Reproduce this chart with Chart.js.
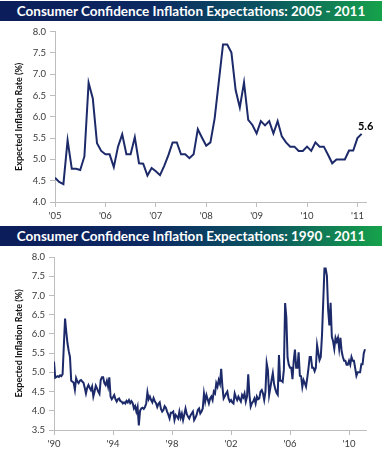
<!DOCTYPE html>
<html>
<head>
<meta charset="utf-8">
<script src="https://cdn.jsdelivr.net/npm/chart.js@4"></script>
<style>
  body { margin: 0; background: #fff; width: 386px; height: 457px; position: relative; overflow: hidden; font-family: Lato, sans-serif; }
  .bar { position: absolute; left: 0; width: 382px; height: 20px; color: #fff; font-weight: bold; font-size: 13.5px; line-height: 20px; text-align: center; white-space: nowrap;
         background: linear-gradient(to right, #0b1d5a 0%, #0c2a62 40%, #0b5660 70%, #16a24b 100%); }
  .box { position: absolute; left: 0; width: 386px; }
</style>
</head>
<body>
<div class="bar" style="top:1px">Consumer Confidence Inflation Expectations: 2005 - 2011</div>
<div class="box" style="top:22px;height:203px"><canvas id="recentChart"></canvas></div>
<div class="bar" style="top:226px">Consumer Confidence Inflation Expectations: 1990 - 2011</div>
<div class="box" style="top:247px;height:210px"><canvas id="longChart"></canvas></div>
<script>
// monthly expected inflation rate (%), Jan 2005 - Feb 2011
const recentValues = [
  4.57, 4.47, 4.42, 5.45, 4.78, 4.78, 4.75, 5.07, 6.8, 6.43, 5.38, 5.2,
  5.12, 5.12, 4.82, 5.3, 5.59, 5.12, 5.12, 5.52, 4.91, 4.9, 4.62, 4.8,
  4.72, 4.63, 4.85, 5.1, 5.4, 5.4, 5.12, 5.12, 5.03, 5.12, 5.71, 5.51,
  5.32, 5.4, 5.96, 6.83, 7.7, 7.7, 7.51, 6.63, 6.22, 6.81, 5.93, 5.81,
  5.61, 5.9, 5.8, 5.9, 5.61, 5.9, 5.54, 5.4, 5.3, 5.3, 5.2, 5.2,
  5.3, 5.2, 5.4, 5.3, 5.3, 5.11, 4.91, 5.0, 5.0, 5.0, 5.21, 5.21,
  5.5, 5.6
];

// monthly expected inflation rate (%), Jan 1990 - Dec 2004
const earlierValues = [
  5.28, 4.86, 4.88, 4.9, 4.88, 4.92, 4.9, 4.95, 5.7, 6.4, 6.05, 5.75,   // 1990
  5.55, 5.4, 4.78, 4.76, 4.73, 4.55, 4.85, 4.76, 4.72, 4.78, 4.8, 4.76, // 1991
  4.73, 4.6, 4.45, 4.6, 4.67, 4.6, 4.54, 4.63, 4.37, 4.5, 4.65, 4.58,   // 1992
  4.5, 4.44, 4.8, 4.87, 4.87, 4.72, 4.67, 4.78, 4.63, 4.87, 4.37, 4.3,  // 1993
  4.35, 4.41, 4.3, 4.24, 4.3, 4.32, 4.25, 4.24, 4.19, 4.22, 4.19, 4.26, // 1994
  4.22, 4.28, 4.2, 4.25, 4.2, 4.06, 4.12, 3.98, 4.1, 3.62, 4.0, 4.06,   // 1995
  4.08, 4.05, 4.1, 4.19, 4.48, 4.3, 4.37, 4.28, 4.22, 4.33, 4.25, 4.2,  // 1996
  4.1, 4.18, 4.22, 4.05, 3.98, 4.02, 4.12, 4.08, 3.98, 3.9, 3.8, 3.95,  // 1997
  3.95, 3.98, 3.76, 3.89, 3.85, 3.8, 3.98, 3.82, 3.93, 3.76, 3.9, 4.06, // 1998
  3.92, 3.85, 3.8, 3.88, 3.93, 3.98, 3.76, 3.82, 3.89, 4.02, 4.06, 3.93,// 1999
  3.98, 4.06, 4.45, 4.24, 4.41, 4.3, 4.19, 4.32, 4.37, 4.28, 4.5, 4.45, // 2000
  4.72, 4.63, 4.8, 4.7, 5.09, 4.63, 4.32, 4.38, 4.45, 4.5, 4.32, 4.24,  // 2001
  4.28, 4.22, 4.19, 4.45, 4.35, 4.28, 4.37, 4.3, 4.24, 4.41, 4.35, 4.45,// 2002
  4.24, 4.37, 4.95, 4.41, 4.11, 4.2, 4.24, 4.32, 4.19, 4.37, 4.3, 4.32, // 2003
  4.5, 4.54, 4.45, 4.28, 4.5, 5.24, 5.06, 4.41, 4.6, 4.8, 4.98, 4.7     // 2004
];

const recentTickYears = [2005, 2006, 2007, 2008, 2009, 2010, 2011];
const longTickYears = [1990, 1994, 1998, 2002, 2006, 2010];
const yTitle = 'Expected Inflation Rate (%)';

const lineColor = '#1c2a6a';
const axisColor = '#bdbdbd';
const tickColor = '#3a3a3a';

function toPoints(values, startYear) {
    return values.map((v, i) => ({ x: startYear + i / 12, y: v }));
}

function buildOptions(xMin, xMax, tickYears, yMin, yMax, yWidth, xHeight, padTop) {
    return {
        responsive: true,
        maintainAspectRatio: false,
        animation: false,
        layout: { padding: { top: padTop, right: 20, left: 0, bottom: 0 } },
        plugins: { legend: { display: false }, tooltip: { enabled: false } },
        scales: {
            x: {
                type: 'linear',
                min: xMin,
                max: xMax,
                afterBuildTicks: (scale) => { scale.ticks = tickYears.map(v => ({ value: v })); },
                afterFit: (scale) => { scale.height = xHeight; },
                grid: { drawOnChartArea: false, tickLength: 5, color: axisColor },
                border: { color: axisColor },
                ticks: {
                    autoSkip: false,
                    maxRotation: 0,
                    padding: 3,
                    color: tickColor,
                    font: { family: 'Lato', size: 9.5 },
                    callback: (v) => "'" + String(v).slice(2)
                }
            },
            y: {
                min: yMin,
                max: yMax,
                afterFit: (scale) => { scale.width = yWidth; },
                grid: { drawOnChartArea: false, tickLength: 5, color: axisColor },
                border: { color: axisColor },
                title: {
                    display: true,
                    text: yTitle,
                    color: '#111',
                    font: { family: 'Lato', size: 9, weight: 'bold' },
                    padding: { top: 14, bottom: 0 }
                },
                ticks: {
                    stepSize: 0.5,
                    padding: 4,
                    color: tickColor,
                    font: { family: 'Lato', size: 9.5 },
                    callback: (v) => Number(v).toFixed(1)
                }
            }
        }
    };
}

const endLabel = {
    id: 'endLabel',
    afterDatasetsDraw(chart) {
        const pts = chart.getDatasetMeta(0).data;
        const last = pts[pts.length - 1];
        const ctx = chart.ctx;
        ctx.save();
        ctx.font = 'bold 11px Lato';
        ctx.fillStyle = '#000';
        ctx.textAlign = 'center';
        ctx.textBaseline = 'middle';
        ctx.fillText(recentValues[recentValues.length - 1].toFixed(1), last.x + 4, last.y - 7);
        ctx.restore();
    }
};

document.addEventListener('DOMContentLoaded', function() {
    // 2005 - 2011 chart
    new Chart(document.getElementById('recentChart').getContext('2d'), {
        type: 'line',
        data: {
            datasets: [{
                data: toPoints(recentValues, 2005),
                borderColor: lineColor,
                borderWidth: 2,
                pointRadius: 0,
                tension: 0
            }]
        },
        options: buildOptions(2005, 2011.17, recentTickYears, 4, 8, 55, 23, 9),
        plugins: [endLabel]
    });

    // 1990 - 2011 chart
    new Chart(document.getElementById('longChart').getContext('2d'), {
        type: 'line',
        data: {
            datasets: [{
                data: toPoints(earlierValues.concat(recentValues), 1990),
                borderColor: lineColor,
                borderWidth: 2,
                pointRadius: 0,
                tension: 0
            }]
        },
        options: buildOptions(1990, 2011.15, longTickYears, 3.5, 8, 54, 27, 10)
    });
});
</script>
</body>
</html>
